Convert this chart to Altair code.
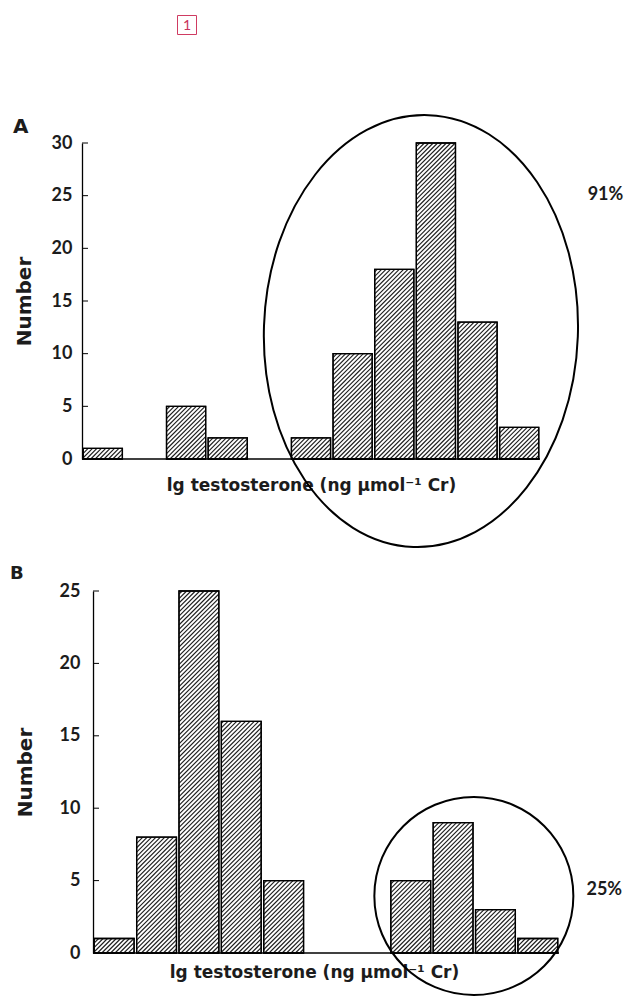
import altair as alt
import pandas as pd

# ---------------- data ----------------
bins = list(range(11))
counts_a = [1, 0, 5, 2, 0, 2, 10, 18, 30, 13, 3]
counts_b = [1, 8, 25, 16, 5, 0, 0, 5, 9, 3, 1]
ticks_a = [0, 5, 10, 15, 20, 25, 30]
ticks_b = [0, 5, 10, 15, 20, 25]
x_title = "lg testosterone (ng μmol⁻¹ Cr)"
y_title = "Number"
panel_labels = ["A", "B"]
pct_labels = ["91%", "25%"]
marker_label = "1"

LABEL_FONT = "Lato"
HEAD_FONT = "DejaVu Sans"
INK = "#1c1c1c"
one = pd.DataFrame({"k": [0]})


def ellipse_path(ratio):
    k = 0.5523
    a = ratio
    f = lambda v: f"{v:.4f}"
    return (f"M0,-1 C{f(k*a)},-1 {f(a)},{f(-k)} {f(a)},0 "
            f"C{f(a)},{f(k)} {f(k*a)},1 0,1 "
            f"C{f(-k*a)},1 {f(-a)},{f(k)} {f(-a)},0 "
            f"C{f(-a)},{f(-k)} {f(-k*a)},-1 0,-1 Z")


def panel(counts, ticks, ymax, x_lo, width, height, label_pad, ytitle_x,
          xtitle_x, xtitle_y, ell, pct, pct_pos, letter, letter_pos, letter_size,
          marker=None):
    n = len(counts)
    kx = width / (n - x_lo)
    ky = height / ymax
    axis_px = -x_lo * kx
    d = 4.4  # hatch spacing (px, horizontal)

    xscale = alt.Scale(domain=[x_lo, n], nice=False, zero=False)
    yscale = alt.Scale(domain=[0, ymax], nice=False, zero=True)
    xaxis = alt.Axis(domain=False, ticks=False, labels=False, grid=False,
                     title=x_title, titleFont=HEAD_FONT, titleFontSize=17,
                     titleFontWeight="bold", titleColor=INK,
                     titleX=xtitle_x, titleY=xtitle_y, titleAlign="center",
                     titleBaseline="alphabetic")
    yaxis = alt.Axis(values=ticks, grid=False, ticks=False, tickSize=0,
                     domain=True, domainColor="black", domainWidth=1.3,
                     labelFont=LABEL_FONT, labelFontSize=18, labelFontWeight="bold",
                     labelColor=INK, labelPadding=label_pad, labelFlush=False,
                     labelOverlap=False, offset=-axis_px,
                     title=y_title, titleFont=HEAD_FONT, titleFontSize=20,
                     titleFontWeight="bold", titleColor=INK, titleAngle=270,
                     titleX=ytitle_x, titleY=height / 2, titleAlign="center",
                     titleBaseline="middle")

    df = pd.DataFrame({"bin": bins, "count": counts})
    base = (alt.Chart(df)
            .transform_filter("datum.count > 0")
            .transform_calculate(x0="datum.bin + 0.03", x1="datum.bin + 0.97"))

    bars = base.mark_rect(fill="white", stroke="black", strokeWidth=1.3).encode(
        x=alt.X("x0:Q", scale=xscale, axis=xaxis), x2="x1:Q",
        y=alt.Y("count:Q", scale=yscale, axis=yaxis), y2=alt.datum(0))

    hatch = (base
             .transform_calculate(u0=f"datum.x0 * {kx}", u1=f"datum.x1 * {kx}",
                                  vt=f"datum.count * {ky}")
             .transform_calculate(
                 ks=f"sequence(floor((datum.u0 - datum.vt) / {d}), ceil(datum.u1 / {d}) + 1)")
             .transform_flatten(["ks"], as_=["kk"])
             .transform_calculate(c=f"datum.kk * {d}")
             .transform_calculate(ua="max(datum.u0, datum.c)",
                                  ub="min(datum.u1, datum.c + datum.vt)")
             .transform_filter("datum.ua < datum.ub")
             .transform_calculate(hx=f"datum.ua / {kx}", hy=f"(datum.ua - datum.c) / {ky}",
                                  hx2=f"datum.ub / {kx}", hy2=f"(datum.ub - datum.c) / {ky}")
             .mark_rule(color="#1e1e1e", strokeWidth=1.15)
             .encode(x=alt.X("hx:Q", scale=xscale, axis=xaxis), x2="hx2:Q",
                     y=alt.Y("hy:Q", scale=yscale, axis=yaxis), y2="hy2:Q"))

    outline = base.mark_rect(fillOpacity=0, stroke="black", strokeWidth=1.3).encode(
        x=alt.X("x0:Q", scale=xscale, axis=xaxis), x2="x1:Q",
        y=alt.Y("count:Q", scale=yscale, axis=yaxis), y2=alt.datum(0))

    tickmarks = alt.Chart(pd.DataFrame({"t": ticks})).mark_rule(
        color="black", strokeWidth=1).encode(
        x=alt.datum(0), x2=alt.datum(6 / kx),
        y=alt.Y("t:Q", scale=yscale, axis=yaxis))

    baseline = alt.Chart(one).mark_rule(color="black", strokeWidth=1.3).encode(
        x=alt.datum(0), x2=alt.datum(n), y=alt.datum(0))

    ex, ey, erx, ery, eang = ell
    ellipse = alt.Chart(one).mark_point(
        shape=ellipse_path(erx / ery), size=(2 * ery) ** 2, filled=False,
        color="black", stroke="black", strokeWidth=2, opacity=1, angle=eang
    ).encode(x=alt.datum(ex), y=alt.datum(ey))

    pct_text = alt.Chart(one).mark_text(
        text=pct, font=LABEL_FONT, fontSize=18, fontWeight="bold", color=INK,
        align="right", baseline="alphabetic").encode(
        x=alt.datum(pct_pos[0]), y=alt.datum(pct_pos[1]))

    letter_text = alt.Chart(one).mark_text(
        text=letter, font=HEAD_FONT, fontSize=letter_size, fontWeight="bold",
        color=INK, align="left", baseline="alphabetic").encode(
        x=alt.value(letter_pos[0]), y=alt.value(letter_pos[1]))

    layers = [bars, hatch, outline, tickmarks, baseline, ellipse, pct_text, letter_text]

    if marker is not None:
        mx, my = marker
        box = alt.Chart(one).mark_point(
            shape="square", size=19 * 19, filled=False, color="#cf3b62",
            stroke="#cf3b62", strokeWidth=1, opacity=1).encode(
            x=alt.value(mx), y=alt.value(my))
        num = alt.Chart(one).mark_text(
            text=marker_label, font=LABEL_FONT, fontSize=14, color="#c8345c",
            align="center", baseline="middle").encode(
            x=alt.value(mx), y=alt.value(my + 1))
        layers += [box, num]

    return alt.layer(*layers).properties(width=width, height=height)


panel_a = panel(counts_a, ticks_a, 30, 0, 458, 316, 10, -58, 229, 31,
                (8.14, 12.15, 157, 216, 2), pct_labels[0], (13.0, 24.6),
                panel_labels[0], (-69, -10), 20, marker=(105, -118))

panel_b = panel(counts_b, ticks_b, 25, -0.26, 477, 362, 13, -68, 232, 24,
                (8.99, 3.94, 99.5, 99, 0), pct_labels[1], (12.49, 4.0),
                panel_labels[1], (-72, -12), 18)

chart = (alt.vconcat(panel_a, panel_b, spacing=132, bounds="flush")
         .properties(padding={"left": 2, "top": 5, "right": 0, "bottom": 0})
         .configure_view(stroke=None))

chart.save("out.html", embed_options={"renderer": "svg", "actions": False})
